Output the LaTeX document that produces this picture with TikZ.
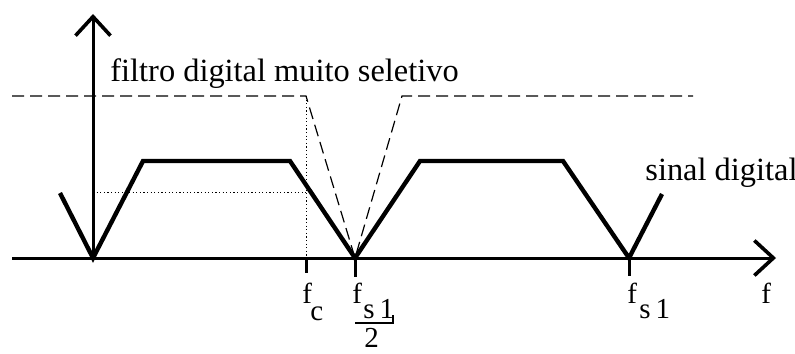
\documentclass[tikz,border=0pt]{standalone}
\usepackage{fontspec}
\setmainfont{Liberation Serif}
\usetikzlibrary{arrows.meta}

\begin{document}
\begin{tikzpicture}[x=0.5pt, y=-0.5pt]

% Defined styles
\tikzstyle{axisline} = [line width=1.5pt, -{Straight Barb[length=9.5pt, width=17.5pt, line width=1.8pt]}]
\tikzstyle{sinal} = [line width=2.2pt, line join=miter]
\tikzstyle{filtro} = [line width=0.6pt, dash pattern=on 6pt off 3pt]
\tikzstyle{guia} = [line width=0.5pt, dash pattern=on 0.6pt off 1.2pt]
\tikzstyle{tickmark} = [line width=1.5pt]
\tikzstyle{caption} = [font=\fontsize{16.2}{19}\selectfont, inner sep=0pt, anchor=base west]
\tikzstyle{freq} = [font=\fontsize{14.5}{17}\selectfont, inner sep=0pt, anchor=base west]

\useasboundingbox (0,0) rectangle (795,353);

% --- Key frequencies on the axis ---
\coordinate (orig) at (93,258);
\coordinate (fc) at (306,258);
\coordinate (fhalf) at (355,258);
\coordinate (fs) at (629,258);

% --- Axes ---
\draw [axisline] (12,258) -- (776,258);
\draw [axisline] (orig) -- (93,14);

% --- Spectrum of the digital signal ---
\draw [sinal] (60,193) -- (orig) -- (143,161) -- (290,161) -- (fhalf)
  -- (420,161) -- (563,161) -- (fs) -- (662,194);

% --- Very selective digital filter ---
\draw [filtro] (12,96) -- (306,96) -- (fhalf) -- (402,96) -- (693,96);

% --- Dotted guides at f_c ---
\draw [guia] (306,96) -- (fc);
\draw [guia] (93,192) -- (306,192);

% --- Ticks ---
\draw [tickmark] (fc) -- ++(0,15);
\draw [tickmark] (fhalf) -- ++(0,19);
\draw [tickmark] (fs) -- ++(0,18);

% --- Labels ---
\node [caption] (filtroTxt) at (110,82) {filtro digital muito seletivo};
\node [caption] (sinalTxt) at (645,180) {sinal digital};

\node [freq] (fcF) at (302,303) {f};
\node [freq] (fcSub) at (310,320) {c};

\node [freq] (fhF) at (352,303) {f};
\node [freq] (fhSub) at (363,318) {s\,1};
\draw [line width=0.8pt] (355,323) -- (393,323) -- (393,315);
\node [freq] (fhDen) at (364,347) {2};

\node [freq] (fsF) at (627,303) {f};
\node [freq] (fsSub) at (639,318) {s\,1};

\node [freq] (axF) at (761,303) {f};

\end{tikzpicture}
\end{document}
